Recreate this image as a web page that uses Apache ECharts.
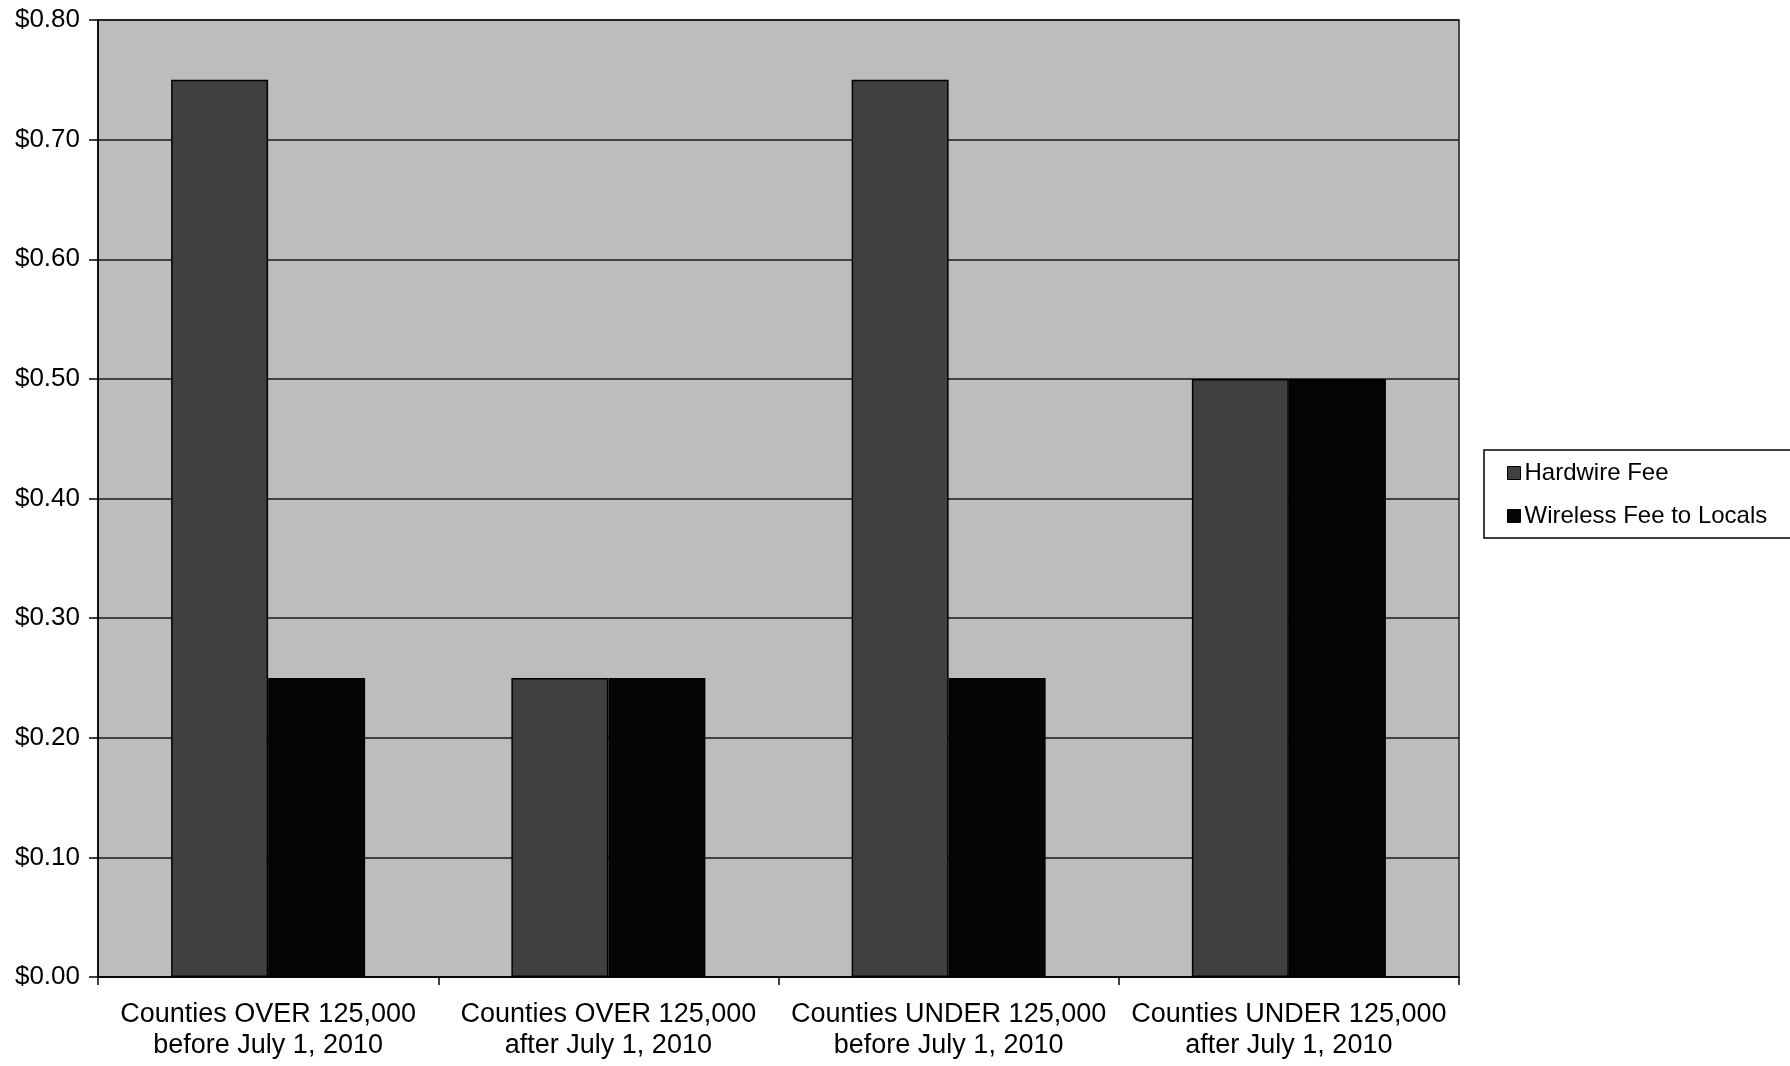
<!DOCTYPE html>
<html>
<head>
<meta charset="utf-8">
<script src="https://cdn.jsdelivr.net/npm/echarts@6/dist/echarts.min.js"></script>
<style>
html,body{margin:0;padding:0;background:#fff;}
#chart{width:1790px;height:1066px;}
</style>
</head>
<body>
<div id="chart"></div>
<script>
const categories = [
  'Counties OVER 125,000\nbefore July 1, 2010',
  'Counties OVER 125,000\nafter July 1, 2010',
  'Counties UNDER 125,000\nbefore July 1, 2010',
  'Counties UNDER 125,000\nafter July 1, 2010'
];
const seriesNames = ['Hardwire Fee', 'Wireless Fee to Locals'];
const hardwireFee = [0.75, 0.25, 0.75, 0.50];
const wirelessFee = [0.25, 0.25, 0.25, 0.50];
const yTicks = { min: 0, max: 0.8, interval: 0.1 };

const FONT = "'Liberation Sans', Arial, sans-serif";
const chart = echarts.init(document.getElementById('chart'), null, { renderer: 'canvas' });
chart.setOption({
  animation: false,
  backgroundColor: '#ffffff',
  textStyle: { fontFamily: FONT, color: '#000' },
  grid: {
    left: 98, right: 331, top: 20, bottom: 89,
    show: true,
    backgroundColor: '#bdbdbd',
    borderColor: '#1a1a1a',
    borderWidth: 1.5
  },
  legend: {
    orient: 'vertical',
    left: 1484, top: 450,
    padding: [11, 30, 10, 23],
    itemGap: 19,
    itemWidth: 13, itemHeight: 13,
    icon: 'rect',
    itemStyle: { borderColor: '#000', borderWidth: 1 },
    backgroundColor: '#ffffff',
    borderColor: '#000',
    borderWidth: 1.5,
    textStyle: { fontFamily: FONT, fontSize: 24, color: '#000', padding: [0, 0, 0, -1] },
    data: seriesNames
  },
  xAxis: {
    type: 'category',
    data: categories,
    axisLine: { show: true, lineStyle: { color: '#000', width: 1.5 } },
    axisTick: { show: true, length: 8, lineStyle: { color: '#000', width: 1.5 } },
    axisLabel: {
      fontFamily: FONT, fontSize: 27, color: '#000', margin: 22,
      lineHeight: 31, interval: 0
    },
    splitLine: { show: false }
  },
  yAxis: {
    type: 'value',
    min: yTicks.min, max: yTicks.max, interval: yTicks.interval,
    axisLine: { show: true, lineStyle: { color: '#000', width: 1.5 } },
    axisTick: { show: true, length: 9, lineStyle: { color: '#000', width: 1.5 } },
    axisLabel: {
      fontFamily: FONT, fontSize: 26, color: '#000', margin: 18,
      formatter: v => '$' + v.toFixed(2)
    },
    splitLine: { show: true, lineStyle: { color: '#1a1a1a', width: 1.5 } }
  },
  series: [
    {
      name: seriesNames[0], type: 'bar', data: hardwireFee,
      barWidth: 97, barGap: '0%',
      itemStyle: { color: '#404040', borderColor: '#000', borderWidth: 1.5 }
    },
    {
      name: seriesNames[1], type: 'bar', data: wirelessFee,
      barWidth: 97, barGap: '0%',
      itemStyle: { color: '#050505', borderColor: '#000', borderWidth: 1.5 }
    }
  ]
});
</script>
</body>
</html>
